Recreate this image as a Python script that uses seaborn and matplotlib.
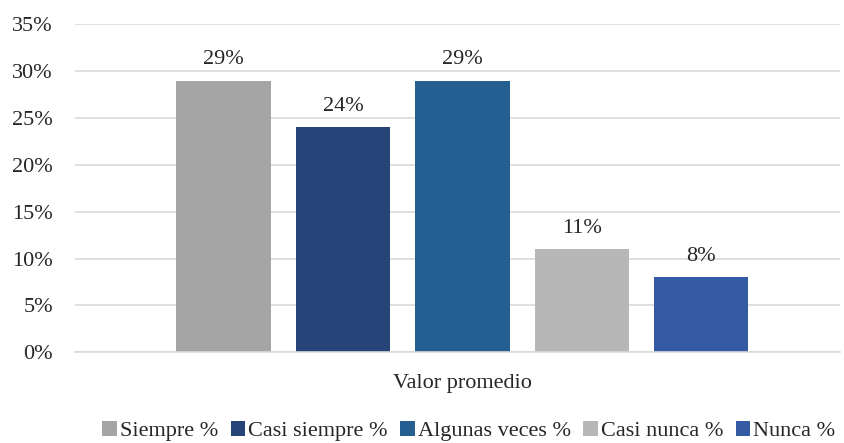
import pandas as pd
import seaborn as sns
import matplotlib.pyplot as plt

categorias = ["Siempre %", "Casi siempre %", "Algunas veces %", "Casi nunca %", "Nunca %"]
valores = [29, 24, 29, 11, 8]
grupo = ["Valor promedio"] * len(categorias)
colores = ["#A5A5A5", "#264478", "#255E91", "#B7B7B7", "#335AA3"]

df = pd.DataFrame({"grupo": grupo, "categoria": categorias, "valor": valores})

sns.set_style("white")
plt.rcParams["font.family"] = ["Liberation Serif", "DejaVu Serif"]
fs = 16

fig = plt.figure(figsize=(8.44, 4.43), dpi=100)
ax = fig.add_axes([0.089, 0.205, 0.906, 0.74])

sns.barplot(data=df, x="grupo", y="valor", hue="categoria", palette=colores,
            width=0.781, gap=0.21, saturation=1, linewidth=0, ax=ax, legend=True)

for c in ax.containers:
    ax.bar_label(c, labels=[f"{v:.0f}%" for v in c.datavalues], padding=8, fontsize=fs)

ax.set_xlim(-0.5065, 0.4935)
ax.set_ylim(0, 35)
ax.set_yticks(range(0, 36, 5))
ax.set_yticklabels([f"{t}%" for t in range(0, 36, 5)], fontsize=fs)
ax.tick_params(axis="x", labelsize=fs, length=0, pad=16)
ax.tick_params(axis="y", length=0, pad=16)
ax.set_xlabel("")
ax.set_ylabel("")
ax.grid(axis="y", color="#D9D9D9", linewidth=1.2)
ax.set_axisbelow(True)
for s in ["top", "right", "left"]:
    ax.spines[s].set_visible(False)
ax.spines["bottom"].set_color("#D9D9D9")
ax.spines["bottom"].set_linewidth(1.2)

ax.legend(loc="center", bbox_to_anchor=(0.515, -0.24), ncol=5, frameon=False,
          fontsize=fs, handlelength=0.65, handleheight=0.65, handletextpad=0.15,
          columnspacing=0.55, borderaxespad=0)

fig.savefig("out.png", dpi=100)
